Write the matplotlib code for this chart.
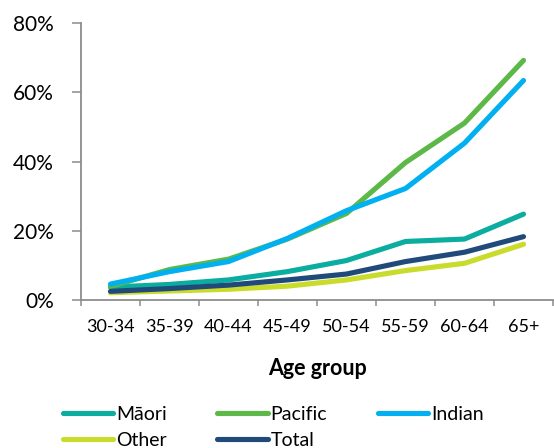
import matplotlib
matplotlib.use("Agg")
import matplotlib.pyplot as plt
from matplotlib.ticker import FuncFormatter, FixedLocator

plt.rcParams["font.family"] = ["Lato", "DejaVu Sans"]

# Age groups on the x axis
age_groups = ["30-34", "35-39", "40-44", "45-49", "50-54", "55-59", "60-64", "65+"]

# Percentages
maori = [3.7, 4.5, 5.8, 8.2, 11.4, 16.9, 17.6, 24.8]
pacific = [3.9, 8.8, 11.8, 17.6, 25.0, 39.7, 51.1, 69.2]
indian = [4.6, 8.2, 11.1, 17.8, 25.8, 32.2, 45.3, 63.4]
other = [2.1, 2.6, 3.1, 4.0, 5.8, 8.5, 10.6, 16.1]
total = [2.5, 3.3, 4.3, 5.8, 7.5, 11.1, 13.8, 18.3]

series = [
    ("Māori", maori, "#0AAD9F"),
    ("Pacific", pacific, "#5CB947"),
    ("Indian", indian, "#00B0F0"),
    ("Other", other, "#C9DC2C"),
    ("Total", total, "#204A7A"),
]

fig = plt.figure(figsize=(5.54, 4.48), dpi=100)
ax = fig.add_axes([81 / 554, 1 - 300 / 448, 472 / 554, 277 / 448])

x = list(range(len(age_groups)))
lines = {}
for name, vals, color in series:
    lines[name], = ax.plot(x, vals, color=color, lw=3.7, solid_capstyle="round",
                           solid_joinstyle="round", label=name)

ax.set_xlim(-0.5, len(age_groups) - 0.5)
ax.set_ylim(0, 80)
ax.set_yticks([0, 20, 40, 60, 80])
ax.yaxis.set_major_formatter(FuncFormatter(lambda v, p: f"{v:.0f}%"))

ax.set_xticks(x)
ax.set_xticklabels(age_groups)
ax.xaxis.set_minor_locator(FixedLocator([i - 0.5 for i in range(len(age_groups) + 1)]))

axis_col = "#8C8C8C"
for s in ["top", "right"]:
    ax.spines[s].set_visible(False)
for s in ["left", "bottom"]:
    ax.spines[s].set_color(axis_col)
    ax.spines[s].set_linewidth(1.3)

ax.tick_params(axis="y", length=6.5, width=1.1, color=axis_col, pad=13,
               labelsize=15, labelcolor="black")
ax.tick_params(axis="x", which="major", length=0, pad=14, labelsize=13)
ax.tick_params(axis="x", which="minor", length=4, width=1.1, color=axis_col)

ax.set_xlabel("Age group", fontsize=15.5, fontweight="bold", labelpad=16)

# legend filled column by column, so reorder to read row-wise like the original
order = ["Māori", "Other", "Pacific", "Total", "Indian"]
fig.legend([lines[n] for n in order], order,
           loc="upper left", bbox_to_anchor=(45 / 554, 1 - 388 / 448),
           ncol=3, frameon=False, fontsize=14, handlelength=2.6,
           handletextpad=0.15, columnspacing=2.6, labelspacing=0.5)

fig.savefig("out.png", dpi=100)
